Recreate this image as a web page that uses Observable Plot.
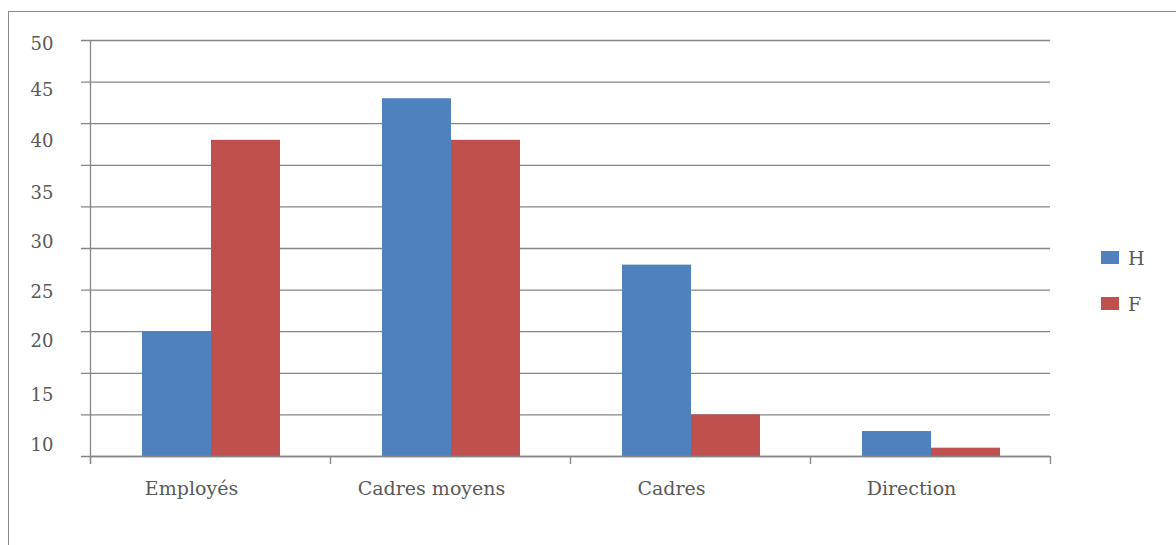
<!DOCTYPE html>
<html>
<head>
<meta charset="utf-8">
<script src="https://cdn.jsdelivr.net/npm/d3@7"></script>
<script src="https://cdn.jsdelivr.net/npm/@observablehq/plot@0.6"></script>
<style>
  html, body { margin: 0; padding: 0; background: #fff; overflow: hidden; }
  #wrap { position: relative; width: 1176px; height: 545px; }
  #frame { position: absolute; left: 8px; top: 11px; width: 1300px; height: 700px; border: 1.5px solid #8a8a8a; }
  #chart { position: absolute; left: 0; top: 0; }
  .legend { position: absolute; left: 1101px; font-family: "DejaVu Serif", serif; font-size: 19px; color: #595959; }
  .legend .sw { position: absolute; left: 0; width: 18px; height: 13px; }
  .legend .lb { position: absolute; left: 27px; line-height: 22px; }
</style>
</head>
<body>
<div id="wrap">
  <div id="frame"></div>
  <div id="chart"></div>
  <div id="legend"></div>
</div>
<script>
const categories = ["Employés", "Cadres moyens", "Cadres", "Direction"];
const series = ["H", "F"];
const valuesH = [15, 43, 23, 3];
const valuesF = [38, 38, 5, 1];
const colors = ["#4F81BD", "#C0504D"];
const gridValues = [0, 5, 10, 15, 20, 25, 30, 35, 40, 45, 50];
const yTickLabels = ["10", "15", "20", "25", "30", "35", "40", "45", "50"];
const yTickPos = [1.3, 7.4, 13.9, 19.7, 25.8, 31.7, 37.9, 44.0, 49.5];

const rows = [];
categories.forEach((c, i) => {
  rows.push({cat: c, sex: "H", value: valuesH[i]});
  rows.push({cat: c, sex: "F", value: valuesF[i]});
});
const yLabelRows = yTickLabels.map((t, i) => ({t, y: yTickPos[i]}));

const W = 1176, H = 545;
const mL = 90, mR = 126, mT = 40, mB = 89;
const band = (W - mL - mR) / categories.length;
const plotH = H - mT - mB;
const gray = "#868686";
const textColor = "#595959";
const font = "DejaVu Serif";

const chart = Plot.plot({
  width: W,
  height: H,
  marginLeft: mL,
  marginRight: mR,
  marginTop: mT,
  marginBottom: mB,
  style: {fontFamily: font, fontSize: "16px", color: textColor, background: "transparent"},
  x: {type: "band", domain: categories, padding: 0, axis: null},
  y: {domain: [0, 50], axis: null},
  color: {domain: series, range: colors},
  marks: [
    Plot.ruleY(gridValues, {stroke: gray, strokeWidth: 1.3, insetLeft: -9}),
    Plot.barY(rows.filter(d => d.sex === "H"), {x: "cat", y: "value", fill: "sex", insetLeft: band * 0.2167, insetRight: band * 0.4958}),
    Plot.barY(rows.filter(d => d.sex === "F"), {x: "cat", y: "value", fill: "sex", insetLeft: band * 0.5042, insetRight: band * 0.2083}),
    Plot.ruleX(categories, {x: d => d, dx: -band / 2, stroke: gray, strokeWidth: 1.3, insetTop: plotH, insetBottom: -8}),
    Plot.ruleX(categories.slice(-1), {x: d => d, dx: band / 2, stroke: gray, strokeWidth: 1.3, insetTop: plotH, insetBottom: -8}),
    Plot.ruleX(categories.slice(0, 1), {x: d => d, dx: -band / 2, stroke: gray, strokeWidth: 1.3, insetBottom: -8}),
    Plot.ruleY([0], {stroke: gray, strokeWidth: 1.3}),
    Plot.text(yLabelRows, {y: "y", text: "t", frameAnchor: "left", dx: -60, textAnchor: "start", fill: textColor, fontSize: 18}),
    Plot.text(categories, {x: d => d, text: d => d, frameAnchor: "bottom", dy: 38, dx: -19, fill: textColor, fontSize: 19})
  ]
});
document.getElementById("chart").appendChild(chart);

const legend = document.getElementById("legend");
series.forEach((s, i) => {
  const item = document.createElement("div");
  item.className = "legend";
  item.style.top = (251 + i * 46) + "px";
  item.innerHTML = `<div class="sw" style="background:${colors[i]}"></div><div class="lb" style="top:-4px">${s}</div>`;
  legend.appendChild(item);
});
</script>
</body>
</html>
